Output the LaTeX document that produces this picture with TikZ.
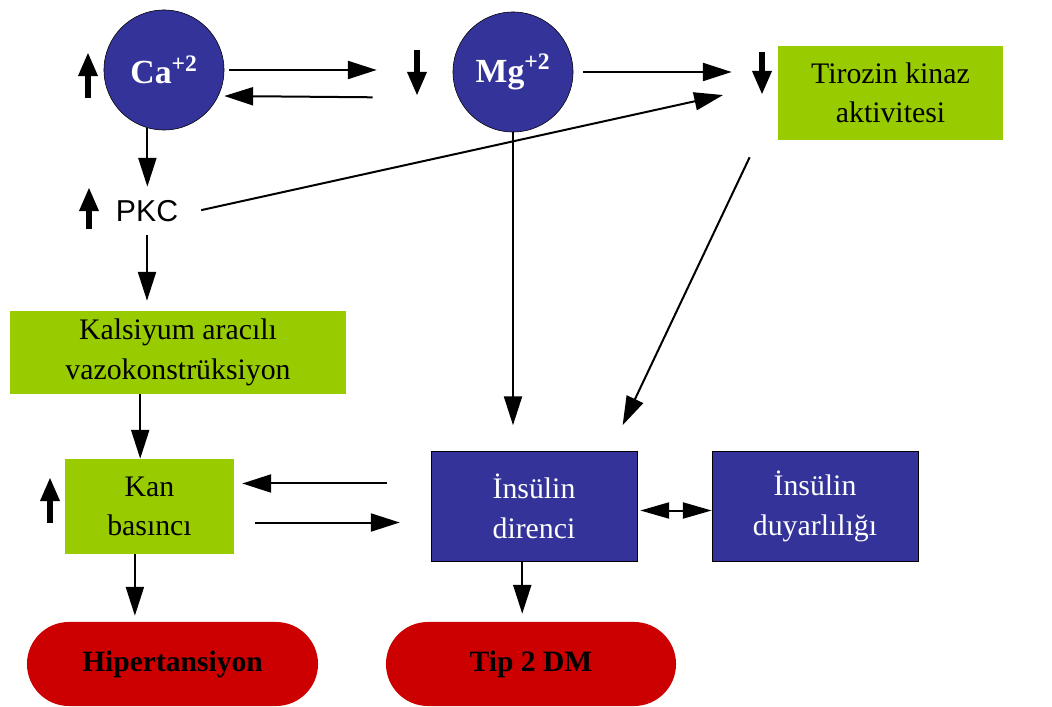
\documentclass[tikz,border=0pt]{standalone}
\usepackage{fontspec}
\setmainfont{Liberation Serif}
\newfontfamily\pkcfont{Liberation Sans}
\usetikzlibrary{arrows.meta}
\definecolor{ionblue}{HTML}{333399}
\definecolor{boxgreen}{HTML}{99CC00}
\definecolor{resred}{HTML}{CC0000}
\begin{document}
\begin{tikzpicture}[x=0.025cm,y=-0.025cm,
  lbl/.style={font=\fontsize{21.2}{28}\selectfont,align=center},
  ion/.style={circle,draw=black,fill=ionblue,minimum size=3cm,inner sep=0pt,text=white,font=\bfseries\fontsize{24}{28}\selectfont},
  greenbox/.style={lbl,fill=boxgreen,inner sep=0pt},
  bluebox/.style={lbl,draw=black,fill=ionblue,text=white,inner sep=0pt,minimum width=5.15cm,minimum height=2.75cm},
  result/.style={fill=resred,rounded corners=1.05cm,inner sep=0pt,minimum height=2.1cm,font=\bfseries\fontsize{21}{25}\selectfont},
  conn/.style={line width=0.05cm,-{Triangle[length=0.72cm,width=0.45cm]}},
  twoway/.style={line width=0.05cm,{Triangle[length=0.72cm,width=0.4cm]}-{Triangle[length=0.72cm,width=0.4cm]}},
  ind/.style={line width=0.15cm,-{Triangle[length=0.6cm,width=0.45cm]}}]
\useasboundingbox (0,0) rectangle (1052,707);
\node[ion] (ca) at (164,70) {Ca\textsuperscript{+2}};
\node[ion] (mg) at (513,72) {Mg\textsuperscript{+2}};
\node[greenbox,minimum width=5.625cm,minimum height=2.35cm] (tyk) at (890.5,93) {Tirozin kinaz\\aktivitesi};
\node[font=\pkcfont\fontsize{21.5}{25}\selectfont,minimum width=2.5cm,minimum height=1.2cm,inner sep=0pt] (pkc) at (147,211) {PKC};
\node[greenbox,minimum width=8.4cm,minimum height=2.075cm] (vaso) at (178,352.5) {Kalsiyum aracılı\\vazokonstrüksiyon};
\node[greenbox,minimum width=4.225cm,minimum height=2.375cm] (bp) at (149.5,506.5) {Kan\\basıncı};
\node[bluebox] (ir) at (534,506.5) {İnsülin\\direnci};
\node[bluebox] (is) at (815,506.5) {İnsülin\\duyarlılığı};
\node[result,minimum width=7.275cm] (htn) at (172.5,664) {Hipertansiyon};
\node[result,minimum width=7.25cm] (dm) at (531,664) {Tip 2 DM};
\draw[conn,shorten <=0.125cm,shorten >=1.9cm] (ca.east) -- (ca.east -| mg.west);
\draw[conn,shorten <=2cm] ([yshift=-0.65cm]mg.west) -- ([yshift=-0.65cm]ca.east);
\draw[conn,shorten <=0.25cm,shorten >=1.15cm] (mg.east) -- (mg.east -| tyk.west);
\draw[conn,shorten <=0.1cm,shorten >=1.4cm] (pkc.east) -- ([yshift=0.25cm]tyk.west);
\draw[conn,shorten <=0.47cm,shorten >=0.72cm] ([xshift=-0.5cm]tyk.south west) -- ([xshift=-0.675cm]ir.north east);
\draw[conn,shorten >=0.65cm] (mg.south) -- (mg.south |- ir.north);
\draw[conn] (ca.-106) -- (ca.-106 |- pkc.north);
\draw[conn,shorten >=0.25cm] (pkc.south) -- (pkc.south |- vaso.north);
\draw[conn] (bp.101 |- vaso.south) -- (bp.101);
\draw[conn,shorten >=0.15cm] (bp.-107) -- (bp.-107 |- htn.north);
\draw[conn,shorten <=1.1cm,shorten >=0.2cm] ([yshift=0.575cm]ir.west) -- ([yshift=0.575cm]bp.east);
\draw[conn,shorten <=0.525cm,shorten >=0.775cm] ([yshift=-0.4cm]bp.east) -- ([yshift=-0.4cm]ir.west);
\draw[twoway,shorten <=0.075cm] ([yshift=-0.1cm]ir.east) -- ([yshift=-0.1cm]is.west);
\draw[conn,shorten >=0.2cm] (ir.-102) -- (ir.-102 |- dm.north);
\draw[ind] (88,98) -- (88,52);
\draw[ind] (417,50) -- (417,96);
\draw[ind] (762,52) -- (762,95);
\draw[ind] (89,229) -- (89,187);
\draw[ind] (50,523) -- (50,477);
\end{tikzpicture}
\end{document}
